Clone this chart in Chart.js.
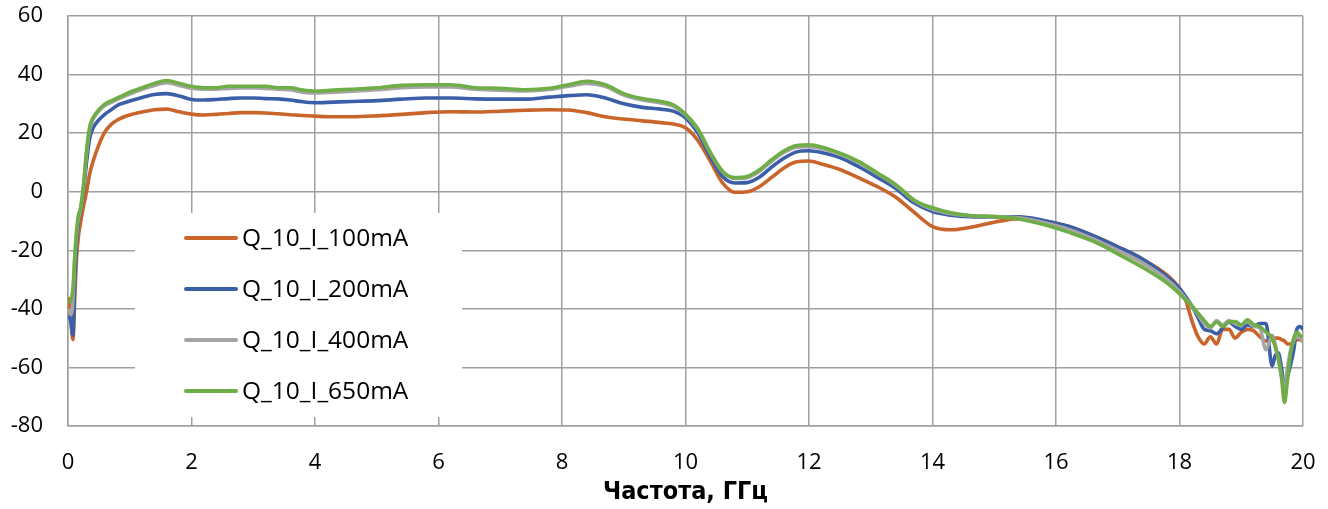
<!DOCTYPE html>
<html>
<head>
<meta charset="utf-8">
<script src="https://cdn.jsdelivr.net/npm/chart.js@4.4.1/dist/chart.umd.min.js"></script>
<style>
  html, body { margin: 0; padding: 0; background: #ffffff; }
  #wrap { width: 1328px; height: 509px; }
</style>
</head>
<body>
<div id="wrap"><canvas id="c" width="1328" height="509"></canvas></div>
<script>
// Frequency grid, GHz
const freq = [
  0.02, 0.05, 0.08, 0.11, 0.14, 0.17, 0.2, 0.25, 0.3, 0.35, 0.4, 0.5, 0.6, 0.7, 0.8, 0.9,
  1.0, 1.2, 1.4, 1.6, 1.8, 2.0, 2.2, 2.4, 2.6, 2.8, 3.0, 3.2, 3.4, 3.6, 3.8, 4.0,
  4.3, 4.6, 5.0, 5.4, 5.8, 6.2, 6.6, 7.0, 7.4, 7.8, 8.1, 8.4, 8.7, 9.0, 9.3, 9.6,
  9.8, 10.0, 10.2, 10.4, 10.6, 10.8, 11.0, 11.2, 11.4, 11.6, 11.8, 12.0, 12.2, 12.5,
  12.8, 13.1, 13.4, 13.7, 14.0, 14.3, 14.6, 15.0, 15.4, 15.8, 16.2, 16.6, 17.0, 17.4,
  17.8, 18.0, 18.1, 18.2, 18.3, 18.4, 18.5, 18.6, 18.7, 18.8, 18.9, 19.0, 19.1, 19.2,
  19.3, 19.4, 19.5, 19.55, 19.6, 19.65, 19.7, 19.75, 19.8, 19.85, 19.9, 19.95, 20.0
];

const seriesLabels = ['Q_10_I_100mA', 'Q_10_I_200mA', 'Q_10_I_400mA', 'Q_10_I_650mA'];

const i100 = [
  -36, -45, -50.5, -36, -22, -15, -11, -5, 0, 6, 10, 16, 20.5, 23, 24.5, 25.5,
  26.2, 27.2, 28, 28.2, 27.3, 26.5, 26.2, 26.4, 26.7, 27, 27, 26.9, 26.6, 26.3, 26, 25.8,
  25.6, 25.6, 25.9, 26.4, 27, 27.3, 27.2, 27.5, 27.8, 28, 27.9, 27, 25.6, 24.8, 24.2, 23.6,
  23.1, 21.8, 17.5, 10.5, 3, -0.2, 0, 1.8, 5, 8.2, 10.2, 10.5, 9.5, 7.6,
  4.8, 1.8, -1.8, -7, -11.9, -13, -12.2, -10.4, -9.2, -9.9, -11.8, -15, -18.8, -23,
  -28.5, -33, -37, -44, -49.5, -52, -49.5, -52, -47, -47, -50, -48, -47, -47.5,
  -49.5, -51, -50.5, -50, -50, -50.5, -51, -52, -52, -51, -50.5, -50.5, -51
];

const i200 = [
  -42, -45, -49, -30, -17, -10, -7, 0, 10, 18, 21.5, 24.5, 26.5, 28, 29.5, 30.3,
  31, 32.2, 33.2, 33.5, 32.7, 31.5, 31.3, 31.5, 31.8, 32, 32, 31.8, 31.7, 31.3, 30.7, 30.4,
  30.6, 30.8, 31.1, 31.6, 32, 32, 31.7, 31.6, 31.6, 32.3, 32.8, 33.1, 32, 30, 28.8, 28.2,
  27.5, 25.2, 20, 12, 5.2, 3, 3.1, 5, 8.5, 11.5, 13.6, 14, 13.4, 11.7,
  8.6, 5, 1.2, -3.8, -6.8, -8, -8.5, -8.6, -8.6, -9.8, -11.8, -15, -18.8, -23,
  -29, -33, -35.8, -39, -43, -47, -47.5, -48.5, -46.5, -44.5, -46, -47, -45.5, -46,
  -45, -45, -59.5, -56, -55, -60, -66.5, -63, -59, -54, -47, -46, -47
];

const i400 = [
  -40, -42, -37, -23, -14, -9, -6.5, 1.5, 13, 21, 24.5, 27.5, 29.5, 30.5, 31.5, 32.5,
  33.3, 35, 36.3, 37.2, 36.3, 35.3, 35, 35, 35.3, 35.4, 35.4, 35.3, 35, 34.8, 34, 33.7,
  34, 34.3, 34.8, 35.5, 35.8, 35.8, 35, 34.7, 34.4, 34.9, 36, 37, 36, 33, 31.3, 30.3,
  29.2, 26.2, 21.2, 13.3, 6.8, 4.5, 4.8, 7, 10.5, 13.5, 15.2, 15.4, 14.8, 12.8,
  10, 6.2, 2.2, -3, -6, -7.5, -8.2, -8.5, -8.9, -10.5, -12.8, -16.1, -20, -24.3,
  -30, -34, -36.5, -39, -42, -45, -46.5, -44, -45.5, -44, -45, -45.5, -44.3, -46,
  -46.5, -54, -49, -52, -57, -63, -68.6, -60, -54, -51, -49.5, -50, -51
];

const i650 = [
  -38, -37, -33, -22, -13, -8, -6, 2, 14, 22, 25, 28, 30, 31, 32, 33,
  34, 35.5, 37, 38, 37, 36, 35.5, 35.5, 36, 36, 36, 36, 35.5, 35.5, 34.7, 34.3,
  34.7, 35, 35.5, 36.3, 36.5, 36.5, 35.5, 35.3, 34.8, 35.3, 36.5, 37.7, 36.5, 33.5, 31.8, 30.8,
  29.7, 26.5, 21.5, 13.5, 7, 4.8, 5.2, 7.5, 11, 14, 15.8, 16, 15.3, 13.2,
  10.4, 6.5, 2.5, -2.8, -5.5, -7.2, -8.1, -8.5, -9.3, -11.2, -13.8, -16.9, -21.2, -25.8,
  -31.2, -34.8, -37, -39, -41.5, -44, -46, -44.5, -46, -44.5, -44.3, -45.5, -43.7, -45.4,
  -46, -48, -50, -53, -57, -63, -72, -64, -55, -50, -48, -49, -49.5
];

const xTicks = [0, 2, 4, 6, 8, 10, 12, 14, 16, 18, 20];
const yTicks = [-80, -60, -40, -20, 0, 20, 40, 60];

const colors = ['#C9652A', '#3A5FA8', '#A5A5A5', '#6FAD47'];
const values = [i100, i200, i400, i650];

const gridColor = '#A0A0A0';
const tickFont = { family: "'Open Sans', 'Liberation Sans', sans-serif", size: 22 };

// Boxed legend drawn inside the plot area
const boxedLegend = {
  id: 'boxedLegend',
  beforeDatasetsDraw(chart) {
    const { ctx, chartArea } = chart;
    const left = chartArea.left + 67;
    const top = chartArea.top + 197;
    const w = 327, h = 204;
    ctx.save();
    ctx.fillStyle = '#ffffff';
    ctx.fillRect(left, top, w, h);
    ctx.font = "24.5px 'Open Sans', 'Liberation Sans', sans-serif";
    ctx.textBaseline = 'middle';
    ctx.textAlign = 'left';
    chart.data.datasets.forEach((ds, i) => {
      const y = top + 25 + i * 51;
      ctx.strokeStyle = ds.borderColor;
      ctx.lineWidth = 4;
      ctx.lineCap = 'round';
      ctx.beginPath();
      ctx.moveTo(left + 51, y);
      ctx.lineTo(left + 101, y);
      ctx.stroke();
      ctx.fillStyle = '#000000';
      ctx.fillText(ds.label, left + 107, y + 1);
    });
    ctx.restore();
  }
};

const datasets = seriesLabels.map((label, i) => ({
  label,
  data: freq.map((f, k) => ({ x: f, y: values[i][k] })),
  borderColor: colors[i],
  backgroundColor: colors[i],
  borderWidth: 3.6,
  pointRadius: 0,
  fill: false,
  cubicInterpolationMode: 'monotone',
  order: 3 - i
}));

new Chart(document.getElementById('c'), {
  type: 'line',
  data: { datasets },
  plugins: [boxedLegend],
  options: {
    responsive: false,
    animation: false,
    devicePixelRatio: 1,
    layout: { padding: { top: 16, right: 25, left: 0, bottom: 0 } },
    plugins: {
      legend: { display: false },
      tooltip: { enabled: false }
    },
    scales: {
      x: {
        type: 'linear',
        min: 0,
        max: 20,
        afterBuildTicks(scale) { scale.ticks = xTicks.map(v => ({ value: v })); },
        afterFit(scale) {
          scale.height = 83;
          scale.paddingLeft = 0;
          scale.paddingRight = 0;
        },
        ticks: { color: '#000000', font: tickFont, padding: 24, maxRotation: 0 },
        grid: { color: gridColor, lineWidth: 1.5, drawTicks: false },
        border: { color: gridColor, width: 1.5 },
        title: {
          display: true,
          text: 'Частота, ГГц',
          color: '#000000',
          font: { family: "'Liberation Sans Narrow', 'DejaVu Sans Condensed', 'Liberation Sans', sans-serif", size: 25, weight: 'bold' },
          padding: { top: 0, bottom: 2 }
        }
      },
      y: {
        type: 'linear',
        min: -80,
        max: 60,
        afterBuildTicks(scale) { scale.ticks = yTicks.map(v => ({ value: v })); },
        afterFit(scale) {
          scale.width = 68;
          scale.paddingTop = 0;
          scale.paddingBottom = 0;
        },
        ticks: { color: '#000000', font: tickFont, padding: 25 },
        grid: { color: gridColor, lineWidth: 1.5, drawTicks: false },
        border: { color: gridColor, width: 1.5 }
      }
    }
  }
});
</script>
</body>
</html>
